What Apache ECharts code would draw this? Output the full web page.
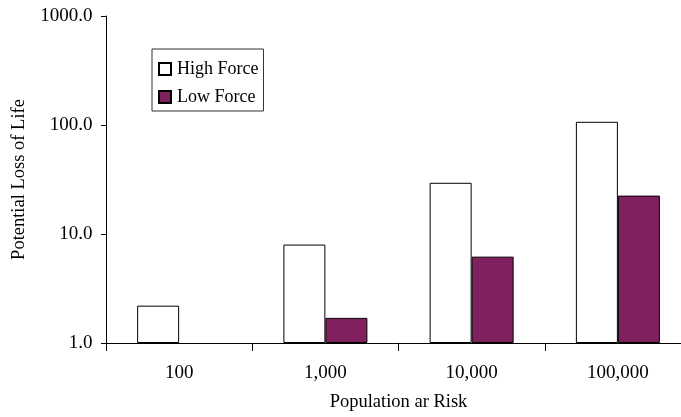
<!DOCTYPE html>
<html><head><meta charset="utf-8">
<script src="https://cdn.jsdelivr.net/npm/echarts@6/dist/echarts.min.js"></script>
<style>html,body{margin:0;padding:0;background:#fff}#c{width:681px;height:417px}</style>
</head><body><div id="c"></div>
<script>
const categories = ['100', '1,000', '10,000', '100,000'];
const highForce = [2.2, 8.0, 29.5, 107];
const lowForce = ['-', 1.7, 6.2, 22.5];
const seriesNames = ['High Force', 'Low Force'];
const yAxisName = 'Potential Loss of Life';
const xAxisName = 'Population ar Risk';

const FONT = '"Liberation Serif", "Times New Roman", serif';
const chart = echarts.init(document.getElementById('c'), null, {renderer: 'canvas'});
chart.setOption({
  animation: false,
  backgroundColor: '#fff',
  grid: {left: 106, width: 585, top: 16, bottom: 74, containLabel: false, outerBoundsMode: 'none'},
  legend: {
    orient: 'vertical', left: 152, top: 49,
    padding: [11, 5, 5, 6],
    borderColor: '#333', borderWidth: 1,
    itemWidth: 12, itemHeight: 12, itemGap: 10,
    icon: 'rect',
    textStyle: {fontFamily: FONT, fontSize: 18, lineHeight: 18, color: '#000', padding: [0, 0, 0, 1]},
    data: seriesNames
  },
  xAxis: {
    type: 'category', data: categories,
    name: xAxisName, nameLocation: 'middle', nameGap: 50,
    nameTextStyle: {fontFamily: FONT, fontSize: 18.5, color: '#000'},
    axisLine: {lineStyle: {color: '#000', width: 1}},
    axisTick: {show: true, inside: false, length: 8, alignWithLabel: false, lineStyle: {color: '#000'}},
    axisLabel: {fontFamily: FONT, fontSize: 19, color: '#000', margin: 21, interval: 0},
    splitLine: {show: false}
  },
  yAxis: {
    type: 'log', logBase: 10, min: 1, max: 1000,
    name: yAxisName, nameLocation: 'middle', nameGap: 77,
    nameTextStyle: {fontFamily: FONT, fontSize: 18.5, color: '#000'},
    axisLine: {show: true, lineStyle: {color: '#000', width: 1}},
    axisTick: {show: true, inside: false, length: 5, lineStyle: {color: '#000'}},
    axisLabel: {fontFamily: FONT, fontSize: 19, color: '#000', margin: 13.5,
      formatter: v => Number(v).toFixed(1)},
    splitLine: {show: false}
  },
  series: [
    {name: seriesNames[0], type: 'bar', data: highForce, barWidth: 42, barGap: '0%',
     itemStyle: {color: '#ffffff', borderColor: '#000', borderWidth: 1}},
    {name: seriesNames[1], type: 'bar', data: lowForce, barWidth: 42, barGap: '0%',
     itemStyle: {color: '#80205e', borderColor: '#000', borderWidth: 1}}
  ]
});
</script></body></html>
